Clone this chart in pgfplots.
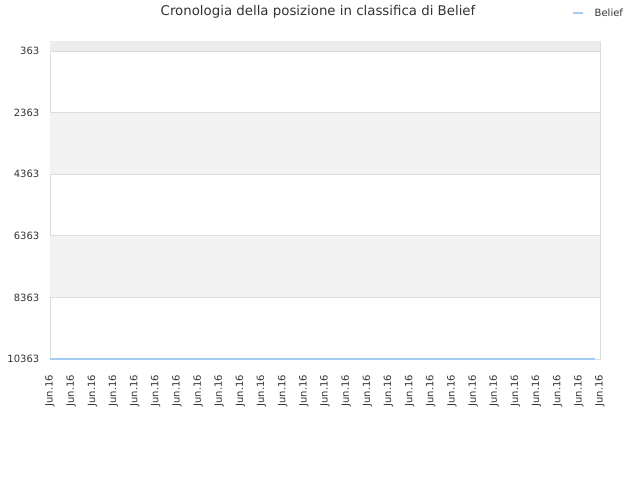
\documentclass[border=0pt]{standalone}
\usepackage{fontspec}
\setmainfont{DejaVu Sans}
\usepackage{pgfplots}
\pgfplotsset{compat=1.18}
\definecolor{txt}{HTML}{333333}
\definecolor{band}{HTML}{F2F2F2}
\definecolor{topband}{HTML}{ECECEC}
\definecolor{gridc}{HTML}{DDDDDD}
\definecolor{lineblue}{HTML}{A6CBF0}
\begin{document}
\begin{tikzpicture}
\path[use as bounding box] (0pt,0pt) rectangle (480pt,360pt);
\node[txt,font=\fontsize{10}{12}\selectfont] at (238.5pt,351pt) {Cronologia della posizione in classifica di Belief};
\draw[lineblue,line width=1.5pt] (429.75pt,350.25pt) -- (437.25pt,350.25pt);
\node[txt,anchor=west,font=\fontsize{7.5}{9}\selectfont] at (442.5pt,350.25pt) {Belief};
\begin{axis}[
    at={(37.5pt,90.75pt)}, anchor=south west,
    scale only axis,
    width=412.5pt, height=238.5pt,
    xmin=0, xmax=26,
    ymin=38, ymax=10363,
    y dir=reverse,
    scaled y ticks=false,
    xtick={0,...,26},
    xticklabels={Jun.16,Jun.16,Jun.16,Jun.16,Jun.16,Jun.16,Jun.16,Jun.16,Jun.16,Jun.16,Jun.16,Jun.16,Jun.16,Jun.16,Jun.16,Jun.16,Jun.16,Jun.16,Jun.16,Jun.16,Jun.16,Jun.16,Jun.16,Jun.16,Jun.16,Jun.16,Jun.16},
    x tick label style={rotate=90, anchor=east, font=\fontsize{7.5}{9}\selectfont, text=txt},
    xticklabel shift=8.5pt,
    ytick={363,2363,4363,6363,8363,10363},
    yticklabels={363,2363,4363,6363,8363,10363},
    y tick label style={font=\fontsize{7.5}{9}\selectfont, text=txt},
    yticklabel shift=4.5pt,
    major tick length=0pt,
    axis line style={gridc},
    ymajorgrids=true,
    grid style={gridc, line width=0.6pt},
    clip=false,
]
\fill[topband] (axis cs:0,38) rectangle (axis cs:26,363);
\fill[band] (axis cs:0,2363) rectangle (axis cs:26,4363);
\fill[band] (axis cs:0,6363) rectangle (axis cs:26,8363);
\addplot[lineblue, line width=1pt] coordinates {
    (0,10363)(1,10363)(2,10363)(3,10363)(4,10363)(5,10363)(6,10363)(7,10363)(8,10363)(9,10363)(10,10363)(11,10363)(12,10363)(13,10363)(14,10363)(15,10363)(16,10363)(17,10363)(18,10363)(19,10363)(20,10363)(21,10363)(22,10363)(23,10363)(24,10363)(25,10363)(25.75,10363)
};
\end{axis}
\end{tikzpicture}
\end{document}
